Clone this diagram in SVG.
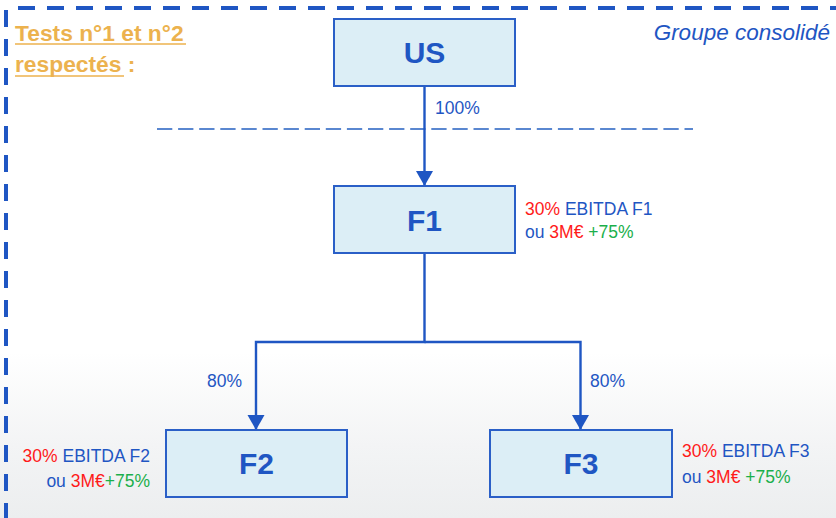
<svg xmlns="http://www.w3.org/2000/svg" width="836" height="518" viewBox="0 0 836 518">
  <defs>
    <linearGradient id="bg" x1="0" y1="0" x2="0" y2="1">
      <stop offset="0" stop-color="#ffffff"/>
      <stop offset="0.68" stop-color="#ffffff"/>
      <stop offset="0.86" stop-color="#f3f4f5"/>
      <stop offset="1" stop-color="#eceeef"/>
    </linearGradient>
    <marker id="arrow" markerUnits="userSpaceOnUse" markerWidth="16" markerHeight="18" refX="15" refY="8.5" orient="auto">
      <path d="M0,0 L15,8.5 L0,17 z" fill="#1F56C3"/>
    </marker>
    <style>
      .frame { fill: none; stroke: #1F56C3; stroke-width: 4; stroke-dasharray: 17 12; }
      .sep { fill: none; stroke: #5A87D0; stroke-width: 2; stroke-dasharray: 15.3 5.8; }
      .box { fill: #DCEEF6; stroke: #2A5FC7; stroke-width: 2; }
      .name { font-family: "Liberation Sans", Arial, sans-serif; font-weight: bold; font-size: 30px; fill: #1F56C3; text-anchor: middle; }
      .lbl { font-family: "Liberation Sans", Arial, sans-serif; font-size: 17.5px; fill: #1F56C3; }
      .red { fill: #FF1A1A; }
      .green { fill: #1BAF4B; }
      .wire { fill: none; stroke: #1F56C3; stroke-width: 2.4; }
      .title { font-family: "Liberation Sans", Arial, sans-serif; font-weight: bold; font-size: 22.8px; fill: #ECB24E; }
      .scope { font-family: "Liberation Sans", Arial, sans-serif; font-style: italic; font-size: 22.5px; fill: #1F56C3; text-anchor: end; }
    </style>
  </defs>

  <rect x="0" y="0" width="836" height="518" fill="url(#bg)"/>

  <!-- consolidation perimeter -->
  <g id="perimeter">
    <line class="frame" x1="18" y1="8" x2="836" y2="8"/>
    <line class="frame" x1="6" y1="10" x2="6" y2="518"/>
    <text class="scope" x="830" y="40">Groupe consolidé</text>
  </g>

  <!-- header note -->
  <g id="note">
    <text class="title" x="15" y="41">Tests n°1 et n°2</text>
    <line x1="15" y1="44" x2="186" y2="44" stroke="#ECB24E" stroke-width="1.6"/>
    <text class="title" x="15" y="72">respectés :</text>
    <line x1="15" y1="76" x2="124" y2="76" stroke="#ECB24E" stroke-width="1.6"/>
  </g>

  <!-- threshold separator -->
  <line id="separator" class="sep" x1="157" y1="129" x2="693" y2="129"/>

  <!-- connectors -->
  <g id="connectors">
    <line class="wire" x1="424.5" y1="86" x2="424.5" y2="186" marker-end="url(#arrow)"/>
    <polyline class="wire" points="424.5,253 424.5,342 256,342 256,430" marker-end="url(#arrow)"/>
    <polyline class="wire" points="424.5,342 580.5,342 580.5,430" marker-end="url(#arrow)"/>
    <text class="lbl" x="435" y="114">100%</text>
    <text class="lbl" x="242" y="387" text-anchor="end">80%</text>
    <text class="lbl" x="590" y="387">80%</text>
  </g>

  <g id="node-us">
    <rect class="box" x="334" y="19" width="181" height="67"/>
    <text class="name" x="424.5" y="63">US</text>
  </g>

  <g id="node-f1">
    <rect class="box" x="334" y="186" width="181" height="67"/>
    <text class="name" x="424.5" y="231">F1</text>
    <text class="lbl" x="525" y="215"><tspan class="red">30%</tspan> EBITDA F1</text>
    <text class="lbl" x="525" y="238">ou <tspan class="red">3M€</tspan> <tspan class="green">+75%</tspan></text>
  </g>

  <g id="node-f2">
    <rect class="box" x="166" y="430" width="181" height="67"/>
    <text class="name" x="256.5" y="474">F2</text>
    <text class="lbl" x="150" y="462" text-anchor="end"><tspan class="red">30%</tspan> EBITDA F2</text>
    <text class="lbl" x="150" y="487" text-anchor="end">ou <tspan class="red">3M€</tspan><tspan class="green">+75%</tspan></text>
  </g>

  <g id="node-f3">
    <rect class="box" x="490" y="430" width="182" height="67"/>
    <text class="name" x="581" y="474">F3</text>
    <text class="lbl" x="682" y="457"><tspan class="red">30%</tspan> EBITDA F3</text>
    <text class="lbl" x="682" y="483">ou <tspan class="red">3M€</tspan> <tspan class="green">+75%</tspan></text>
  </g>
</svg>
